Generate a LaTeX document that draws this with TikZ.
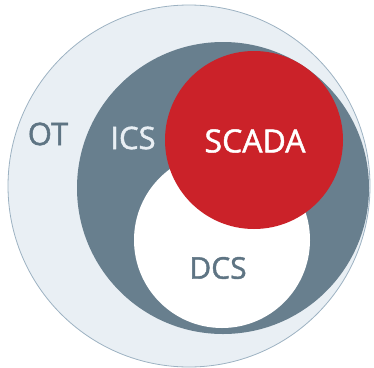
\documentclass[tikz,border=0pt]{standalone}
\usepackage{fontspec}
\setmainfont{Open Sans}[FakeBold=1.4,AutoFakeBold=1.4]
\definecolor{otfill}{HTML}{E9EFF4}
\definecolor{otline}{HTML}{9DB2C2}
\definecolor{icsgray}{HTML}{687F8E}
\definecolor{scadared}{HTML}{CB2229}
\definecolor{labelgray}{HTML}{5E7483}
\begin{document}
\begin{tikzpicture}[x=1pt,y=-1pt,
  lbl/.style={inner sep=0pt,anchor=center},
  ring/.style={circle,inner sep=0pt}]
\useasboundingbox (0,0) rectangle (374,367);
% nested sets, drawn outermost first
\node[ring,fill=otfill,draw=otline,line width=0.8pt,minimum size=362pt] (ot) at (189,186) {};
\node[ring,fill=icsgray,minimum size=292pt] (ics) at (223,188) {};
\node[ring,fill=white,minimum size=176pt] (dcs) at (222,240) {};
\node[ring,fill=scadared,minimum size=178pt] (scada) at (254,140) {};
% labels
\node[lbl,text=labelgray,font=\fontsize{31}{31}\selectfont\bfseries] (otlbl) at (48,134) {OT};
\node[lbl,text=otfill,font=\fontsize{31}{31}\selectfont\bfseries] (icslbl) at (133,138) {ICS};
\node[lbl,text=white,font=\fontsize{32}{32}\selectfont\bfseries] (scadalbl) at (255,141) {SCADA};
\node[lbl,text=labelgray,font=\fontsize{30}{30}\selectfont\bfseries] (dcslbl) at (218,268) {DCS};
\end{tikzpicture}
\end{document}
